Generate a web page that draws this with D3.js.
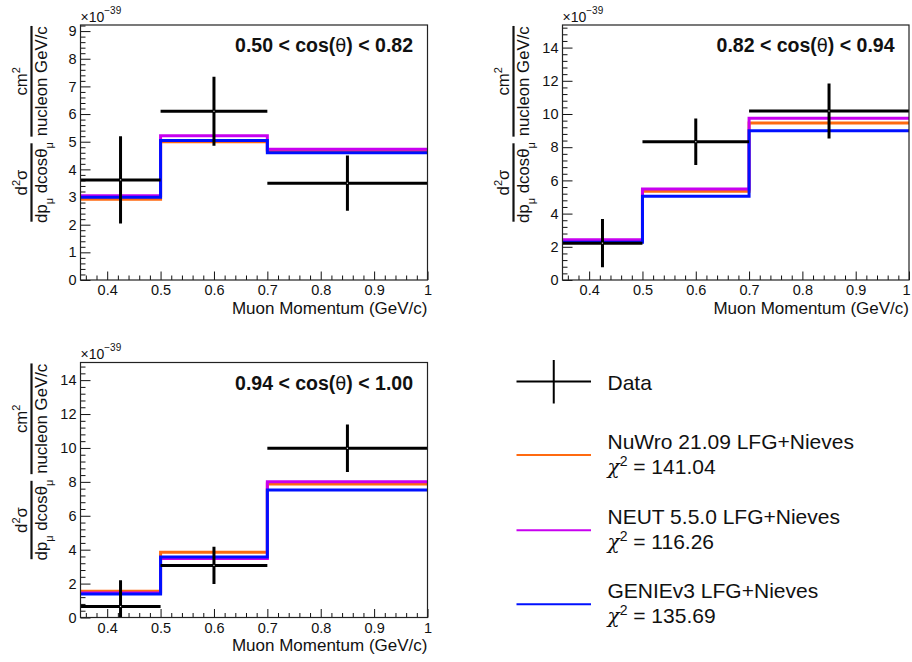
<!DOCTYPE html>
<html><head><meta charset="utf-8">
<script src="https://cdn.jsdelivr.net/npm/d3@7"></script>
<style>
html,body{margin:0;padding:0;background:#fff;}
text{font-family:"Liberation Sans",Arial,Helvetica,sans-serif;fill:#111;}
</style></head>
<body>
<script>
// ---------- data ----------
const binEdges = [0.35, 0.5, 0.7, 1.0];
const binCenters = [0.425, 0.6, 0.85];
const xTicks = [0.4, 0.5, 0.6, 0.7, 0.8, 0.9, 1.0];
const panelLabels = ["0.50 < cos(θ) < 0.82", "0.82 < cos(θ) < 0.94", "0.94 < cos(θ) < 1.00"];
const yMax = [9.22, 15.36, 15.04];
const yMajorStep = [1, 2, 2];
const yMinorStep = [0.2, 0.4, 0.4];

const dataValues = [[3.62, 6.10, 3.50], [2.22, 8.33, 10.18], [0.65, 3.07, 9.98]];
const dataErrors = [[1.58, 1.25, 1.00], [1.45, 1.40, 1.65], [1.55, 1.10, 1.40]];
const nuwro = [[2.92, 5.00, 4.67], [2.36, 5.35, 9.45], [1.55, 3.85, 7.88]];
const neut  = [[3.05, 5.22, 4.73], [2.42, 5.48, 9.75], [1.45, 3.48, 8.00]];
const genie = [[2.99, 5.04, 4.60], [2.27, 5.04, 8.99], [1.38, 3.57, 7.52]];

const modelNames = ["NuWro 21.09 LFG+Nieves", "NEUT 5.5.0 LFG+Nieves", "GENIEv3 LFG+Nieves"];
const modelChi2 = ["141.04", "116.26", "135.69"];
const modelColors = ["#ff6a10", "#c800f0", "#0010ff"];
const models = [nuwro, neut, genie];

// ---------- layout ----------
const W = 912, H = 662;
const frames = [
  {x0: 80.5, x1: 427.5, y0: 25, y1: 280},
  {x0: 562.5, x1: 909, y0: 25, y1: 280},
  {x0: 80.5, x1: 427.5, y0: 362.5, y1: 617.5}
];

const svg = d3.select("body").append("svg").attr("width", W).attr("height", H);
svg.append("rect").attr("width", W).attr("height", H).attr("fill", "#fff");

function range(a, b, s) { const out = []; for (let v = a; v <= b + 1e-9; v += s) out.push(+v.toFixed(4)); return out; }

frames.forEach((fr, i) => {
  const x = d3.scaleLinear().domain([binEdges[0], binEdges[binEdges.length - 1]]).range([fr.x0, fr.x1]);
  const y = d3.scaleLinear().domain([0, yMax[i]]).range([fr.y1, fr.y0]);
  const g = svg.append("g");

  const clipId = "clip" + i;
  svg.append("clipPath").attr("id", clipId).append("rect")
    .attr("x", fr.x0).attr("y", fr.y0).attr("width", fr.x1 - fr.x0).attr("height", fr.y1 - fr.y0);

  // axes
  const yMajor = range(0, yMax[i], yMajorStep[i]);
  const yMinor = range(0, yMax[i], yMinorStep[i]).filter(v => !yMajor.some(m => Math.abs(m - v) < 1e-6));
  const xMinor = range(0.36, 0.98, 0.02).filter(v => !xTicks.some(m => Math.abs(m - v) < 1e-6));

  const yAx = g.append("g").attr("transform", `translate(${fr.x0},0)`)
    .call(d3.axisLeft(y).tickValues(yMajor).tickSize(-10).tickPadding(4).tickFormat(d3.format("d")));
  const yAxMin = g.append("g").attr("transform", `translate(${fr.x0},0)`)
    .call(d3.axisLeft(y).tickValues(yMinor).tickSize(-5).tickFormat(""));
  const xAx = g.append("g").attr("transform", `translate(0,${fr.y1})`)
    .call(d3.axisBottom(x).tickValues(xTicks).tickSize(-8.5).tickPadding(5)
      .tickFormat(d => d === 1 ? "1" : d.toFixed(1)));
  const xAxMin = g.append("g").attr("transform", `translate(0,${fr.y1})`)
    .call(d3.axisBottom(x).tickValues(xMinor).tickSize(-4.5).tickFormat(""));
  [yAx, yAxMin, xAx, xAxMin].forEach(a => {
    a.select(".domain").remove();
    a.selectAll("line").attr("stroke", "#111").attr("stroke-width", 1);
    a.selectAll("text").attr("font-size", 14.5).attr("fill", "#111")
      .attr("font-family", '"Liberation Sans",Arial,Helvetica,sans-serif');
  });
  // keep the last x label inside the page
  xAx.selectAll(".tick").filter(d => d === 1).select("text")
    .attr("x", fr.x1 + 5 > W ? -3 : 0);

  // models
  const line = d3.line().x(d => x(d[0])).y(d => y(d[1])).curve(d3.curveStepAfter);
  models.forEach((m, k) => {
    const vals = m[i];
    const pts = binEdges.map((e, j) => [e, vals[Math.min(j, vals.length - 1)]]);
    g.append("path").attr("d", line(pts)).attr("fill", "none")
      .attr("stroke", modelColors[k]).attr("stroke-width", 3).attr("clip-path", `url(#${clipId})`);
  });

  // data
  const dg = g.append("g").attr("clip-path", `url(#${clipId})`);
  dataValues[i].forEach((v, j) => {
    dg.append("line").attr("x1", x(binEdges[j])).attr("x2", x(binEdges[j + 1]))
      .attr("y1", y(v)).attr("y2", y(v)).attr("stroke", "#000").attr("stroke-width", 3);
    dg.append("line").attr("x1", x(binCenters[j])).attr("x2", x(binCenters[j]))
      .attr("y1", y(v - dataErrors[i][j])).attr("y2", y(v + dataErrors[i][j]))
      .attr("stroke", "#000").attr("stroke-width", 3);
    dg.append("rect").attr("x", x(binCenters[j]) - 0.6).attr("y", y(v) - 0.6)
      .attr("width", 1.2).attr("height", 1.2).attr("fill", "#ddd");
  });

  // frame
  g.append("rect").attr("x", fr.x0).attr("y", fr.y0).attr("width", fr.x1 - fr.x0).attr("height", fr.y1 - fr.y0)
    .attr("fill", "none").attr("stroke", "#222").attr("stroke-width", 1.2);

  // panel label
  const parts = panelLabels[i].split("θ");
  const t = g.append("text").attr("x", fr.x1 - 14.5).attr("y", fr.y0 + 27.3)
    .attr("text-anchor", "end").attr("font-size", 19.5).attr("font-weight", "bold");
  t.append("tspan").text(parts[0]);
  t.append("tspan").attr("font-weight", "normal").attr("font-family", '"DejaVu Sans",sans-serif').attr("font-size", 18).text("θ");
  t.append("tspan").text(parts[1]);

  // x title
  g.append("text").attr("x", fr.x1).attr("y", fr.y1 + 33.5).attr("text-anchor", "end")
    .attr("font-size", 17).text("Muon Momentum (GeV/c)");

  // exponent label
  const ex = g.append("text").attr("x", fr.x0).attr("y", fr.y0 - 3.3).attr("font-size", 14);
  ex.append("tspan").text("×10");
  ex.append("tspan").attr("font-size", 10).attr("dy", -8).text("−39");

  // y title: two stacked fractions, rotated
  const barX = fr.x0 - 49;
  const fs = 16.8;
  function frac(cy, len, numFn, denFn) {
    const fg = g.append("g").attr("transform", `translate(${barX},${fr.y0 + cy}) rotate(-90)`);
    fg.append("line").attr("x1", -len / 2).attr("x2", len / 2).attr("y1", 0).attr("y2", 0)
      .attr("stroke", "#111").attr("stroke-width", 2.2);
    const num = fg.append("text").attr("text-anchor", "middle").attr("y", -5).attr("font-size", fs);
    numFn(num);
    const den = fg.append("text").attr("text-anchor", "middle").attr("y", 15.5).attr("font-size", fs);
    denFn(den);
  }
  frac(56.3, 110.7, n => {
    n.append("tspan").text("cm");
    n.append("tspan").attr("font-size", 11).attr("dy", -7).text("2");
  }, d => {
    d.text("nucleon GeV/c");
  });
  frac(157.5, 78.4, n => {
    n.append("tspan").text("d");
    n.append("tspan").attr("font-size", 11).attr("dy", -7).text("2");
    n.append("tspan").attr("dy", 7).text("σ");
  }, d => {
    d.append("tspan").text("dp");
    d.append("tspan").attr("font-size", 11).attr("dy", 6).text("μ");
    d.append("tspan").attr("dy", -6).text(" dcosθ");
    d.append("tspan").attr("font-size", 11).attr("dy", 6).text("μ");
  });
});

// ---------- legend ----------
const lg = svg.append("g");
const lx0 = 516.5, lx1 = 591, ltx = 607.5;
lg.append("line").attr("x1", lx0).attr("x2", lx1).attr("y1", 381.5).attr("y2", 381.5).attr("stroke", "#000").attr("stroke-width", 2);
lg.append("line").attr("x1", (lx0 + lx1) / 2).attr("x2", (lx0 + lx1) / 2).attr("y1", 360).attr("y2", 403.5).attr("stroke", "#000").attr("stroke-width", 2);
lg.append("text").attr("x", ltx).attr("y", 390).attr("font-size", 21).text("Data");

const legLineY = [455, 530.3, 604.3];
const legNameY = [449.3, 524.3, 598.3];
modelNames.forEach((name, k) => {
  lg.append("line").attr("x1", lx0).attr("x2", lx1).attr("y1", legLineY[k]).attr("y2", legLineY[k])
    .attr("stroke", modelColors[k]).attr("stroke-width", 2);
  lg.append("text").attr("x", ltx).attr("y", legNameY[k]).attr("font-size", 21).text(name);
  const c = lg.append("text").attr("x", ltx).attr("y", legNameY[k] + 24.5).attr("font-size", 21);
  c.append("tspan").attr("font-family", '"DejaVu Serif",serif').attr("font-style", "italic").attr("font-size", 20).text("χ");
  c.append("tspan").attr("font-size", 14).attr("dy", -8).text("2");
  c.append("tspan").attr("dy", 8).text(" = " + modelChi2[k]);
});
</script>
</body></html>
